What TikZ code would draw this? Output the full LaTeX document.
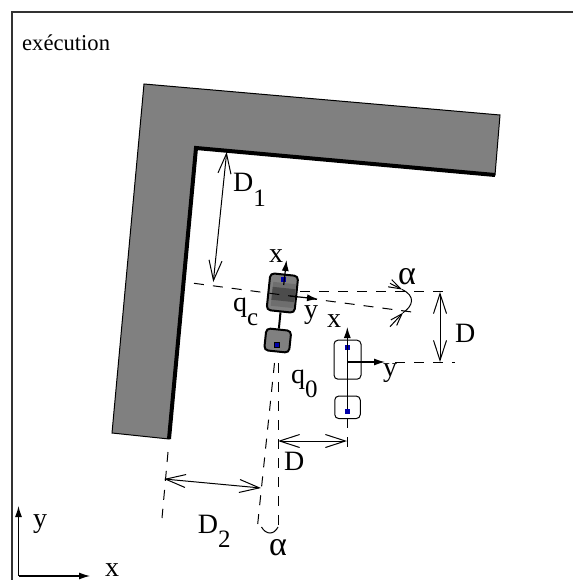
\documentclass[tikz,border=0pt]{standalone}
\usepackage{fontspec}
\setmainfont{Liberation Serif}
\usetikzlibrary{arrows.meta}
\definecolor{marker}{RGB}{0,0,170}
\newcommand{\bigsize}{\fontsize{28}{30}\selectfont}
\newcommand{\subsize}{\fontsize{25}{27}\selectfont}
\newcommand{\withsub}[2]{#1\raisebox{-14.5pt}{\subsize #2}}
\tikzset{
  lab/.style={inner sep=0pt,font=\bigsize,anchor=base west},
  greek/.style={inner sep=0pt,font=\fontsize{34}{36}\selectfont,anchor=base west},
  wall/.style={fill=black!50,draw=black,line width=1pt},
  wallface/.style={line width=4pt,line cap=butt,line join=miter},
  guide/.style={dashed,dash pattern=on 10pt off 9pt,line width=1pt},
  dim/.style={line width=1pt,{Straight Barb[length=20pt,width=13pt]}-{Straight Barb[length=20pt,width=13pt]}},
  barb/.style={line width=1pt,-{Straight Barb[length=12pt,width=8pt]}},
  axis/.style={line width=1.2pt,-{Latex[length=11pt,width=7pt]}},
  filledbody/.style={draw=black,fill=black!50,line width=2pt,rounded corners=4pt,inner sep=0pt,rotate=-6},
  whitebody/.style={draw=black,fill=white,line width=1pt,rounded corners=4pt,inner sep=0pt},
  marksq/.style={fill=marker,inner sep=0pt,minimum size=5pt},
  frameline/.style={line width=1.2pt,black!80}
}
\begin{document}
\begin{tikzpicture}[x=1pt,y=-1pt]
\useasboundingbox (0,0) rectangle (573,580);
% frame
\coordinate (fb) at (12,580); \coordinate (ft) at (12,12); \coordinate (fr) at (573,12);
\draw[frameline] (fb) -- (ft) -- (fr);
\node[inner sep=0pt,font=\fontsize{22.6}{24}\selectfont,anchor=base west] (title) at (22,51) {exécution};
% wall
\coordinate (w1) at (144,84); \coordinate (w2) at (500,115); \coordinate (w3) at (495,175);
\coordinate (w4) at (196,148); \coordinate (w5) at (169,439); \coordinate (w6) at (112,433);
\draw[wall] (w1) -- (w2) -- (w3) -- (w4) -- (w5) -- (w6) -- cycle;
\draw[wallface] (w3) -- (w4) -- (w5);
% guide lines
\coordinate (g1a) at (194,283.3); \coordinate (g1b) at (412,312);
\coordinate (g2a) at (300,291); \coordinate (g2b) at (445,291);
\coordinate (g3a) at (395,362); \coordinate (g3b) at (455,362);
\coordinate (g4a) at (278,363); \coordinate (g4b) at (278,525);
\coordinate (g5a) at (274.5,363); \coordinate (g5b) at (257.7,524);
\coordinate (g6a) at (168,452); \coordinate (g6b) at (162,518);
\coordinate (g7a) at (347.3,418); \coordinate (g7b) at (347.3,447);
\draw[guide] (g2a) -- (g2b);
\draw[guide] (g3a) -- (g3b);
\draw[guide] (g4a) -- (g4b);
\draw[guide] (g5a) -- (g5b);
\draw[guide] (g6a) -- (g6b);
\draw[guide] (g7a) -- (g7b);
% current robot
\node[filledbody,minimum width=28pt,minimum height=37pt] (cbody) at (282.4,293) {};
\node[fill=black!57,inner sep=0pt,minimum width=23pt,minimum height=24pt,rotate=-6] (cband) at (283.5,295) {};
\node[fill=black!70,inner sep=0pt,minimum width=23pt,minimum height=13pt,rotate=-6] (cdark) at (283.5,294.5) {};
\node[filledbody,minimum width=25pt,minimum height=22pt] (cwheel) at (277.7,340.5) {};
\draw[line width=2pt] (cbody) -- (cwheel);
\node[marksq] (cm1) at (283.7,279) {};
\node[marksq,draw=black,line width=0.6pt] (cm2) at (277,345) {};
\draw[guide] (g1a) -- (g1b);
\coordinate (cxs) at (283.7,285); \coordinate (cxe) at (286.5,260);
\coordinate (cys) at (290,296); \coordinate (cye) at (318,299);
\draw[axis] (cxs) -- (cxe);
\draw[axis] (cys) -- (cye);
% target robot
\node[whitebody,minimum width=27pt,minimum height=39pt] (tbody) at (347.5,359.7) {};
\node[whitebody,minimum width=25.5pt,minimum height=22.5pt] (twheel) at (347.5,407.3) {};
\node[marksq] (tm1) at (347.3,347.7) {};
\node[marksq] (tm2) at (347.3,411.7) {};
\coordinate (to) at (347.3,362);
\coordinate (txe) at (347.3,327); \coordinate (tye) at (385,362);
\draw[axis] (to) -- (txe);
\draw[axis] (to) -- (tye);
\draw[line width=1pt] (to) -- (tm2);
% dimensions
\coordinate (d1a) at (226.7,152); \coordinate (d1b) at (213.3,282);
\coordinate (d2a) at (164,479); \coordinate (d2b) at (261,488);
\coordinate (d3a) at (278,441); \coordinate (d3b) at (347,441);
\coordinate (d4a) at (440,292); \coordinate (d4b) at (440,362);
\draw[dim] (d1a) -- (d1b);
\draw[dim] (d2a) -- (d2b);
\draw[dim] (d3a) -- (d3b);
\draw[dim] (d4a) -- (d4b);
% alpha marks
\coordinate (a1) at (390,283.3); \coordinate (a2) at (402,289.5);
\coordinate (a3) at (390,326.7); \coordinate (a4) at (403,312.7);
\draw[barb] (a1) -- (a2);
\draw[barb] (a3) -- (a4);
\draw[line width=1pt] (a2) .. controls (416,296) and (413,306) .. (a4);
\coordinate (b1) at (261.5,527); \coordinate (b2) at (278,527);
\draw[line width=1pt] (b1) .. controls (266,535) and (274,535) .. (b2);
% axes
\coordinate (o) at (18.5,576); \coordinate (ox) at (90,576); \coordinate (oy) at (18.5,506);
\draw[axis] (o) -- (ox);
\draw[axis] (o) -- (oy);
% labels
\node[lab] (lx0) at (105,576) {x};
\node[lab] (ly0) at (33,527) {y};
\node[lab] (ld1) at (233,191.7) {\withsub{D}{1}};
\node[lab] (ld2) at (197.7,533) {\withsub{D}{2}};
\node[lab] (ld3) at (284,470) {D};
\node[lab] (ld4) at (455,342) {D};
\node[lab] (lq1) at (233,311) {\withsub{q}{c}};
\node[lab] (lq2) at (291,383) {\withsub{q}{0}};
\node[lab] (lxc) at (269,262) {x};
\node[lab] (lyc) at (304,318) {y};
\node[lab] (lxt) at (327,327) {x};
\node[lab] (lyt) at (383,376) {y};
\node[greek] (la1) at (398,284.5) {α};
\node[greek] (la2) at (269,555) {α};
\end{tikzpicture}
\end{document}
